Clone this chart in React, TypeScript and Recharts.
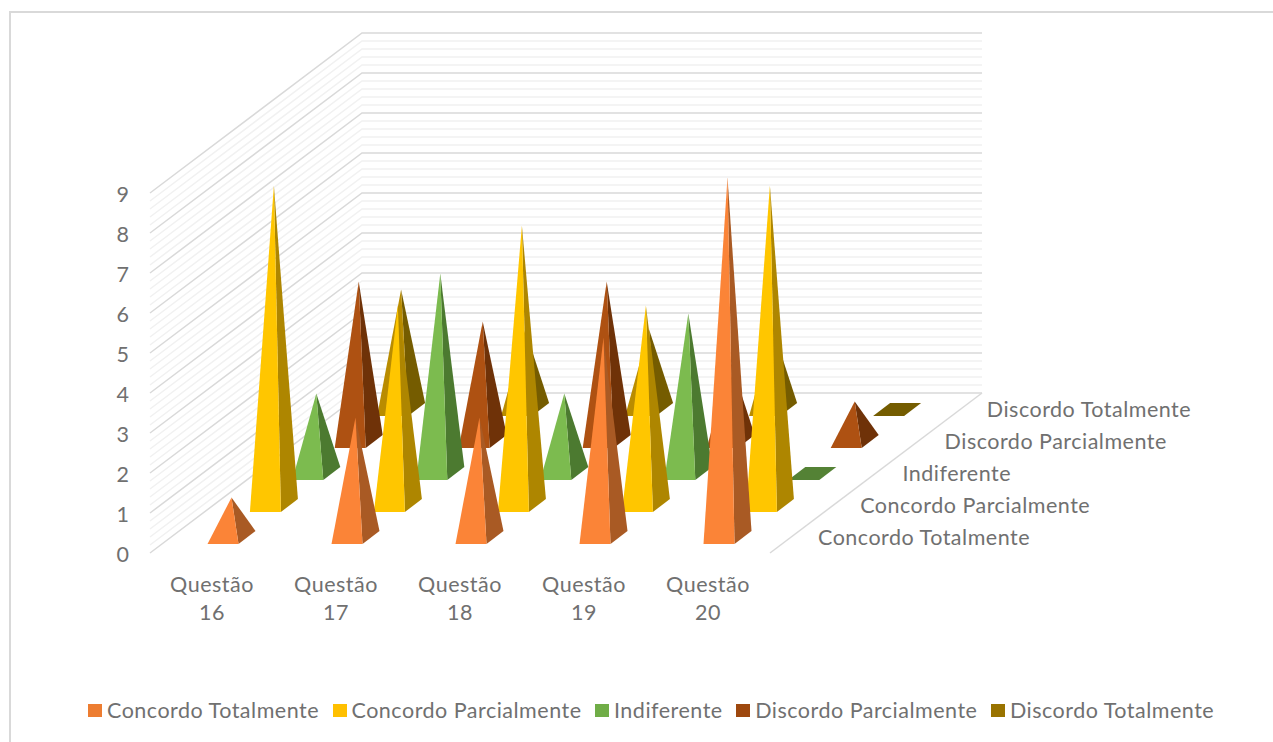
import React from 'react';
import { BarChart, Bar, XAxis, YAxis, Legend } from 'recharts';

const questions = ['Questão 16', 'Questão 17', 'Questão 18', 'Questão 19', 'Questão 20'];
const concordoTotalmente = [1, 3, 3, 5, 9];
const concordoParcialmente = [8, 5, 7, 5, 8];
const indiferente = [2, 5, 2, 4, 0];
const discordoParcialmente = [4, 3, 4, 2, 1];
const discordoTotalmente = [3, 2, 2, 2, 0];
const valueTicks = [0, 1, 2, 3, 4, 5, 6, 7, 8, 9];

const seriesNames = [
  'Concordo Totalmente',
  'Concordo Parcialmente',
  'Indiferente',
  'Discordo Parcialmente',
  'Discordo Totalmente',
];
const seriesValues = [
  concordoTotalmente,
  concordoParcialmente,
  indiferente,
  discordoParcialmente,
  discordoTotalmente,
];

const rows = questions.map((question, q) => {
  const row: Record<string, string | number> = { question };
  seriesNames.forEach((name, s) => {
    row[name] = seriesValues[s][q];
  });
  return row;
});

const legendColors = ['#ED7D31', '#FFC000', '#70AD47', '#9E480E', '#997300'];
const frontColors = ['#FB8437', '#FFC600', '#7CBB4F', '#AE5112', '#B98C00'];
const sideColors = ['#A95A24', '#AE8600', '#4C7A30', '#6F3208', '#755C00'];
const flatColors = ['#A95A24', '#AE8600', '#548235', '#6F3208', '#745C00'];

const FONT = 'Lato, sans-serif';
const TEXT_COLOR = '#707070';
const FONT_SIZE = 21.5;
const LETTER_SPACING = 0.5;

const WIDTH = 1273;
const HEIGHT = 742;
// front plane of the plot box
const LEFT = 150;
const RIGHT = 770;
const TOP = 193;
const BOTTOM = 553;
// one step back along the depth axis
const STEP_X = 42.4;
const STEP_Y = 32;
const BAR_WIDTH = 31;
const BASE_DX = 17;
const BASE_DY = 13;

// pyramid with a front face and a right face, shifted back by its series row
const Pyramid = (props: any) => {
  const { x, y, width, height, row } = props;
  const shiftX = 10.5 + row * STEP_X;
  const shiftY = -9 - row * STEP_Y;
  const fl = [x + shiftX, y + height + shiftY];
  const fr = [fl[0] + width, fl[1]];
  const br = [fr[0] + BASE_DX, fr[1] - BASE_DY];
  const bl = [fl[0] + BASE_DX, fl[1] - BASE_DY];
  const pts = (list: number[][]) => list.map((p) => p.join(',')).join(' ');

  if (height < 0.5) {
    return <polygon points={pts([fl, fr, br, bl])} fill={flatColors[row]} />;
  }
  // the apex stands over the middle of the base
  const apex = [fl[0] + (width + BASE_DX) / 2, y + shiftY - BASE_DY / 2];
  return (
    <g>
      <polygon points={pts([fr, br, apex])} fill={sideColors[row]} />
      <polygon points={pts([fl, fr, apex])} fill={frontColors[row]} />
    </g>
  );
};

// back wall, side wall and floor edges, one major line per unit and four minor lines between
const Walls = () => {
  const backLeft = LEFT + 5 * STEP_X;
  const backRight = RIGHT + 5 * STEP_X;
  const rise = 5 * STEP_Y;
  const lines = [];
  for (let k = 45; k >= 0; k--) {
    const major = k % 5 === 0;
    const yy = TOP + k * 8;
    lines.push(
      <polyline
        key={k}
        points={`${LEFT},${yy} ${backLeft},${yy - rise} ${backRight},${yy - rise}`}
        fill="none"
        stroke={major ? '#D9D9D9' : '#F1F1F1'}
        strokeWidth={1.5}
      />
    );
  }
  return (
    <g>
      {lines}
      <line x1={RIGHT} y1={BOTTOM} x2={backRight} y2={BOTTOM - rise} stroke="#D9D9D9" strokeWidth={1.5} />
    </g>
  );
};

// series names along the depth axis
const DepthLabels = () => (
  <g>
    {seriesNames.map((name, i) => (
      <text
        key={name}
        x={818 + i * 42.2}
        y={540 - i * 32.2}
        dominantBaseline="middle"
        fontFamily={FONT}
        fontSize={FONT_SIZE}
        letterSpacing={LETTER_SPACING}
        fill={TEXT_COLOR}
      >
        {name}
      </text>
    ))}
  </g>
);

const QuestionTick = (props: any) => {
  const { x, y, payload } = props;
  const [word, num] = String(payload.value).split(' ');
  return (
    <text x={x} y={y + 9} textAnchor="middle" fontFamily={FONT} fontSize={FONT_SIZE} letterSpacing={LETTER_SPACING} fill={TEXT_COLOR}>
      <tspan x={x} dy={0}>{word}</tspan>
      <tspan x={x} dy={28}>{num}</tspan>
    </text>
  );
};

const LegendRow = () => (
  <div
    style={{
      display: 'flex',
      fontFamily: FONT,
      fontSize: FONT_SIZE,
      letterSpacing: LETTER_SPACING,
      color: TEXT_COLOR,
      lineHeight: '26px',
    }}
  >
    {seriesNames.map((name, i) => (
      <div key={name} style={{ display: 'flex', alignItems: 'center', marginRight: 13.5 }}>
        <span style={{ width: 14, height: 13, background: legendColors[i], marginRight: 5 }} />
        <span>{name}</span>
      </div>
    ))}
  </div>
);

export default function App() {
  return (
    <div style={{ position: 'absolute', left: 0, top: 0, width: WIDTH, height: HEIGHT, overflow: 'hidden', background: '#fff' }}>
      <div
        style={{
          position: 'absolute',
          left: 9,
          top: 11,
          right: 0,
          bottom: 0,
          borderLeft: '2px solid #D9D9D9',
          borderTop: '2px solid #D9D9D9',
        }}
      />
      <BarChart
        width={WIDTH}
        height={HEIGHT}
        data={rows}
        margin={{ top: TOP, left: LEFT - 40, right: WIDTH - RIGHT, bottom: HEIGHT - BOTTOM - 60 }}
        barSize={BAR_WIDTH}
        barGap={-BAR_WIDTH}
        style={{ position: 'absolute', left: 0, top: 0 }}
      >
        <Walls />
        <XAxis
          dataKey="question"
          height={60}
          axisLine={false}
          tickLine={false}
          tickSize={0}
          interval={0}
          tick={<QuestionTick />}
          tickMargin={30}
        />
        <YAxis
          width={40}
          domain={[0, 9]}
          ticks={valueTicks}
          interval={0}
          axisLine={false}
          tickLine={false}
          tickSize={0}
          tickMargin={21}
          tick={{ fontFamily: FONT, fontSize: FONT_SIZE, fill: TEXT_COLOR, dy: 1 }}
        />
        <DepthLabels />
        {/* back rows first so the front rows cover them */}
        {seriesNames
          .map((name, row) => (
            <Bar
              key={name}
              dataKey={name}
              fill={legendColors[row]}
              isAnimationActive={false}
              shape={(p: any) => <Pyramid {...p} row={row} />}
            />
          ))
          .reverse()}
        <Legend
          verticalAlign="middle"
          align="center"
          layout="horizontal"
          width={1180}
          wrapperStyle={{ left: 88, top: 697 }}
          content={<LegendRow />}
        />
      </BarChart>
    </div>
  );
}
